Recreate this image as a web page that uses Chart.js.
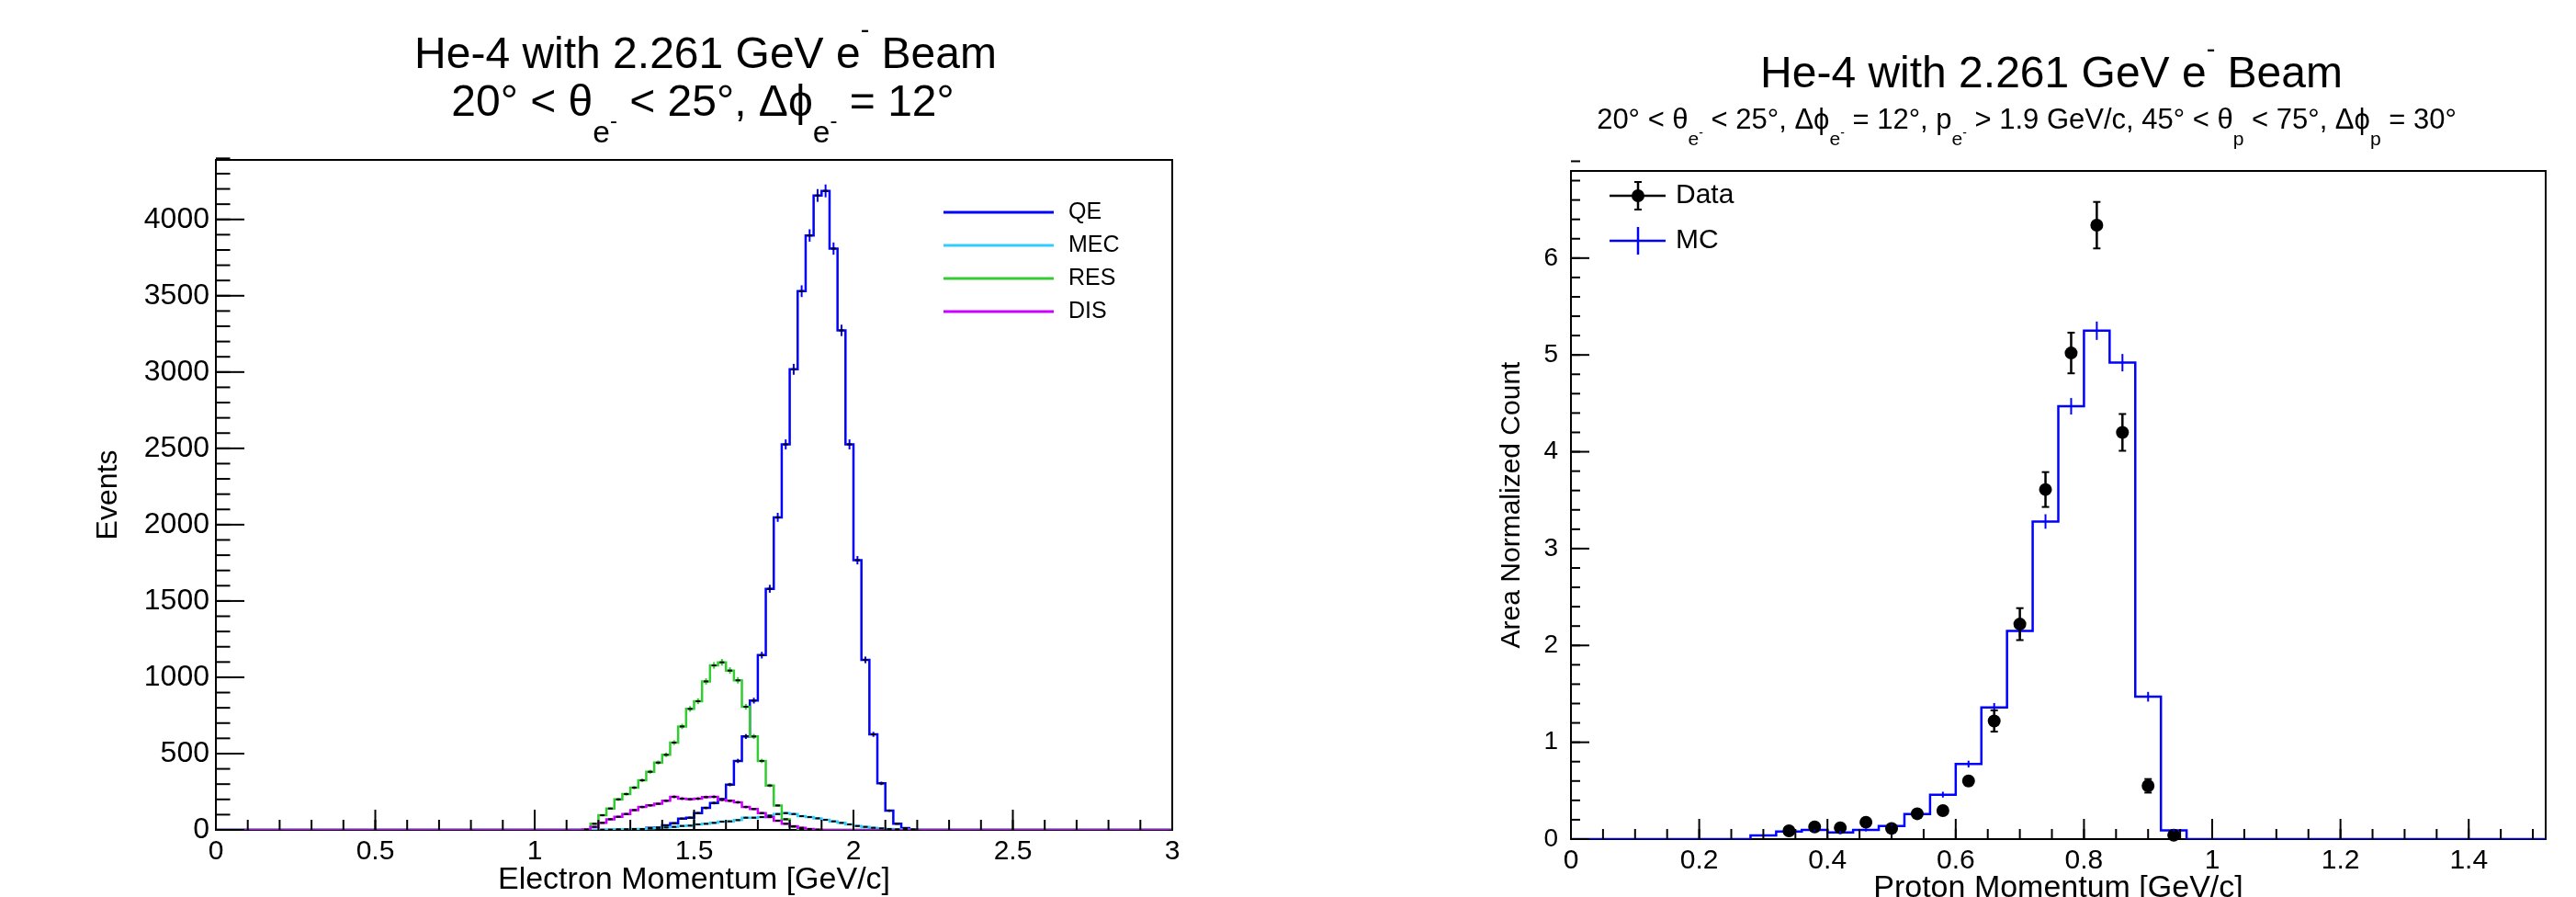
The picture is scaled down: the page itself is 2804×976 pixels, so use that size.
<!DOCTYPE html>
<html>
<head>
<meta charset="utf-8">
<script src="https://cdn.jsdelivr.net/npm/chart.js@4.4.1/dist/chart.umd.min.js"></script>
<style>
  html, body { margin: 0; padding: 0; background: #fff; }
  #wrap { position: relative; width: 2804px; height: 976px; overflow: hidden; }
  canvas { position: absolute; top: 0; }
  #left { left: 0; }
  #right { left: 1402px; }
</style>
</head>
<body>
<div id="wrap">
  <canvas id="left" width="1402" height="976"></canvas>
  <canvas id="right" width="1402" height="976"></canvas>
</div>
<script>
// ---------- left pad: electron momentum per interaction type ----------
const eBinWidth = 0.025;
const eNBins = 120;            // 0 .. 3 GeV/c
const eWindowStart = 1.15;     // first bin listed below, all other bins are empty
const qeCounts  = [0, 0, 0, 0, 1, 2, 3, 5, 13, 15, 30, 44, 74, 80, 110, 144, 176, 201, 297, 452, 612, 847,
                   1145, 1580, 2048, 2526, 3018, 3530, 3895, 4157, 4187, 3809, 3273, 2526, 1767, 1114, 626,
                   305, 126, 40, 12, 3];
const mecCounts = [0, 0, 1, 2, 4, 4, 6, 6, 10, 14, 16, 20, 26, 28, 36, 40, 46, 54, 56, 64, 80, 80, 84, 94,
                   104, 110, 104, 90, 84, 76, 66, 56, 46, 36, 26, 20, 14, 10, 6, 4, 2, 1];
const resCounts = [0, 40, 96, 140, 200, 235, 277, 325, 381, 441, 492, 572, 678, 793, 843, 973, 1078, 1098,
                   1044, 980, 807, 612, 452, 291, 160, 70, 22, 5, 0, 0, 0, 0, 0, 0, 0, 0, 0, 0, 0, 0, 0, 0];
const disCounts = [3, 20, 46, 70, 86, 104, 130, 150, 161, 171, 191, 217, 205, 201, 205, 215, 217, 197, 191,
                   181, 150, 137, 110, 84, 60, 40, 24, 14, 6, 2, 0, 0, 0, 0, 0, 0, 0, 0, 0, 0, 0, 0];
const eSeriesNames  = ['QE', 'MEC', 'RES', 'DIS'];
const eSeriesColors = ['#0000ff', '#33ccff', '#33cc33', '#cc00ff'];
const eXTicks = [0, 0.5, 1, 1.5, 2, 2.5, 3];
const eYTicks = [0, 500, 1000, 1500, 2000, 2500, 3000, 3500, 4000];
const eErrScale = 0.65;        // size of the little error crosses

// ---------- right pad: proton momentum, data vs MC ----------
const pBinWidth = 0.04;
const pNBins = 38;             // 0 .. 1.52 GeV/c
const pWindowStart = 0.28;
const mcValues = [0.038, 0.079, 0.095, 0.069, 0.095, 0.136, 0.259, 0.459, 0.775, 1.36, 2.15, 3.28, 4.47,
                  5.25, 4.92, 1.47, 0.09];
const mcErrors = [0.01, 0.015, 0.015, 0.015, 0.015, 0.015, 0.02, 0.03, 0.035, 0.045, 0.06, 0.075, 0.085,
                  0.095, 0.09, 0.05, 0.012];
const dataMomenta = [0.34, 0.38, 0.42, 0.46, 0.50, 0.54, 0.58, 0.62, 0.66, 0.70, 0.74, 0.78, 0.82, 0.86, 0.90, 0.94];
const dataValues  = [0.085, 0.126, 0.117, 0.174, 0.11, 0.262, 0.294, 0.60, 1.22, 2.22, 3.61, 5.02, 6.34, 4.20, 0.55, 0.04];
const dataErrors  = [0.02, 0.02, 0.02, 0.025, 0.02, 0.03, 0.03, 0.045, 0.11, 0.165, 0.18, 0.21, 0.24, 0.19, 0.07, 0.02];
const pXTicks = [0, 0.2, 0.4, 0.6, 0.8, 1, 1.2, 1.4];
const pYTicks = [0, 1, 2, 3, 4, 5, 6];

const FONT = "'Liberation Sans', Arial, Helvetica, sans-serif";
Chart.defaults.font.family = FONT;
Chart.defaults.color = '#000';

// histogram outline points at bin edges; each bin's value is held until the next edge
function histPoints(width, nBins, windowStart, counts) {
  const first = Math.round(windowStart / width);
  const pts = [];
  for (let i = 0; i < nBins; i++) {
    const j = i - first;
    const v = (j >= 0 && j < counts.length) ? counts[j] : 0;
    pts.push({ x: +(i * width).toFixed(4), y: v });
  }
  pts.push({ x: +(nBins * width).toFixed(4), y: pts[pts.length - 1].y });
  return pts;
}

// text with ROOT-like sub/superscripts: parts are [text, scale, dy(em)]
function richText(ctx, parts, cx, base, size) {
  let total = 0;
  const widths = parts.map(p => {
    ctx.font = `${size * p[1]}px ${FONT}`;
    const w = ctx.measureText(p[0]).width;
    total += w;
    return w;
  });
  let x = cx - total / 2;
  ctx.textAlign = 'left';
  ctx.textBaseline = 'alphabetic';
  ctx.fillStyle = '#000';
  parts.forEach((p, i) => {
    ctx.font = `${size * p[1]}px ${FONT}`;
    ctx.fillText(p[0], x, base + p[2] * size);
    x += widths[i];
  });
}

function line(ctx, x1, y1, x2, y2) {
  ctx.beginPath();
  ctx.moveTo(x1, y1);
  ctx.lineTo(x2, y2);
  ctx.stroke();
}

// frame, inward ROOT ticks, titles, legend, error bars
function rootDecor(cfg) {
  return {
    id: 'rootDecor',
    beforeDatasetsDraw(chart) {
      const { ctx, chartArea: a } = chart;
      ctx.save();
      ctx.strokeStyle = '#000';
      ctx.lineWidth = 2;
      ctx.strokeRect(a.left, a.top, a.right - a.left, a.bottom - a.top);
      ctx.restore();
    },
    afterDatasetsDraw(chart) {
      const { ctx, chartArea: a, scales: { x, y } } = chart;
      ctx.save();
      cfg.errors(chart, ctx);
      ctx.strokeStyle = '#000';
      ctx.lineWidth = 2;
      const nx = Math.round((x.max - x.min) / cfg.xMinor);
      for (let i = 0; i <= nx; i++) {
        const px = x.getPixelForValue(x.min + i * cfg.xMinor);
        line(ctx, px, a.bottom, px, a.bottom - cfg.xLen / 2);
      }
      cfg.xTicks.forEach(v => {
        const px = x.getPixelForValue(v);
        line(ctx, px, a.bottom, px, a.bottom - cfg.xLen);
      });
      const ny = Math.round((y.max - y.min) / cfg.yMinor);
      for (let i = 0; i <= ny; i++) {
        const py = y.getPixelForValue(y.min + i * cfg.yMinor);
        line(ctx, a.left, py, a.left + cfg.yLen / 2, py);
      }
      cfg.yTicks.forEach(v => {
        const py = y.getPixelForValue(v);
        line(ctx, a.left, py, a.left + cfg.yLen, py);
      });
      cfg.titles.forEach(t => richText(ctx, t.parts, t.cx, t.base, t.size));
      cfg.legend(ctx);
      ctx.restore();
    }
  };
}

const N = t => [t, 1, 0];
const SUP = t => [t, 0.6, -0.67];

// ---------------- left chart ----------------
const eSeriesCounts = [qeCounts, mecCounts, resCounts, disCounts];

new Chart(document.getElementById('left'), {
  type: 'line',
  data: {
    datasets: eSeriesCounts.map((c, i) => ({
      label: eSeriesNames[i],
      data: histPoints(eBinWidth, eNBins, eWindowStart, c),
      borderColor: eSeriesColors[i],
      borderWidth: 2.5,
      stepped: 'before',
      pointRadius: 0,
      fill: false,
      order: 4 - i
    }))
  },
  options: {
    responsive: false,
    animation: false,
    devicePixelRatio: 1,
    events: [],
    layout: { padding: { left: 0, right: 126, top: 174, bottom: 0 } },
    plugins: { legend: { display: false }, tooltip: { enabled: false } },
    scales: {
      x: {
        type: 'linear', min: 0, max: 3,
        afterBuildTicks: s => { s.ticks = eXTicks.map(v => ({ value: v })); },
        afterFit: s => { s.height = 73; },
        grid: { display: false, drawTicks: false },
        border: { display: false },
        ticks: { callback: v => String(v), font: { size: 30, lineHeight: 1 }, padding: 9, maxRotation: 0, autoSkip: false },
        title: { display: true, text: 'Electron Momentum [GeV/c]', font: { size: 34, lineHeight: 1 }, padding: { top: 0, bottom: 1 } }
      },
      y: {
        type: 'linear', min: 0, max: 4390,
        afterBuildTicks: s => { s.ticks = eYTicks.map(v => ({ value: v })); },
        afterFit: s => { s.width = 235; },
        grid: { display: false, drawTicks: false },
        border: { display: false },
        ticks: { callback: v => String(v), font: { size: 32 }, padding: 7, autoSkip: false },
        title: { display: true, text: 'Events', font: { size: 32, lineHeight: 1 }, padding: { top: 102, bottom: 0 } }
      }
    }
  },
  plugins: [rootDecor({
    xMinor: 0.1, yMinor: 100, xLen: 22, yLen: 31,
    xTicks: eXTicks, yTicks: eYTicks,
    titles: [
      { parts: [N('He-4 with 2.261 GeV e'), SUP('-'), N(' Beam')], cx: 768, base: 74, size: 48 },
      { parts: [N('20° < θ'), ['e', 0.7, 0.6], ['-', 0.5, 0.27], N(' < 25°, Δϕ'), ['e', 0.7, 0.6], ['-', 0.5, 0.27], N(' = 12°')],
        cx: 765, base: 126, size: 48 }
    ],
    errors(chart, ctx) {
      const { x, y } = chart.scales;
      eSeriesCounts.forEach((counts, s) => {
        counts.forEach((v, j) => {
          if (v <= 0) return;
          const cx = x.getPixelForValue(eWindowStart + (j + 0.5) * eBinWidth);
          const cy = y.getPixelForValue(v);
          const e = eErrScale * Math.sqrt(v);
          ctx.strokeStyle = eSeriesColors[s];
          ctx.lineWidth = 2;
          line(ctx, cx, y.getPixelForValue(v - e), cx, y.getPixelForValue(v + e));
          ctx.strokeStyle = '#000';
          line(ctx, cx - 2.5, cy, cx + 2.5, cy);
        });
      });
    },
    legend(ctx) {
      ctx.font = `25px ${FONT}`;
      ctx.textAlign = 'left';
      ctx.textBaseline = 'middle';
      eSeriesNames.forEach((name, i) => {
        const ly = 231 + i * 36;
        ctx.strokeStyle = eSeriesColors[i];
        ctx.lineWidth = 3;
        line(ctx, 1027, ly, 1147, ly);
        ctx.fillStyle = '#000';
        ctx.fillText(name, 1163, ly);
      });
    }
  })]
});

// ---------------- right chart ----------------
const mcPoints = histPoints(pBinWidth, pNBins, pWindowStart, mcValues);

new Chart(document.getElementById('right'), {
  type: 'line',
  data: {
    datasets: [
      {
        label: 'Data',
        data: dataMomenta.map((m, i) => ({ x: m, y: dataValues[i] })),
        showLine: false,
        pointRadius: 7,
        pointBackgroundColor: '#000',
        pointBorderColor: '#000',
        pointBorderWidth: 0,
        clip: false,
        order: 0
      },
      {
        label: 'MC',
        data: mcPoints,
        borderColor: '#0000ff',
        borderWidth: 2.5,
        stepped: 'before',
        pointRadius: 0,
        fill: false,
        order: 1
      }
    ]
  },
  options: {
    responsive: false,
    animation: false,
    devicePixelRatio: 1,
    events: [],
    layout: { padding: { left: 0, right: 33, top: 186, bottom: 0 } },
    plugins: { legend: { display: false }, tooltip: { enabled: false } },
    scales: {
      x: {
        type: 'linear', min: 0, max: 1.52,
        afterBuildTicks: s => { s.ticks = pXTicks.map(v => ({ value: v })); },
        afterFit: s => { s.height = 63; },
        grid: { display: false, drawTicks: false },
        border: { display: false },
        ticks: { callback: v => String(v), font: { size: 30, lineHeight: 1 }, padding: 9, maxRotation: 0, autoSkip: false },
        title: { display: true, text: 'Proton Momentum [GeV/c]', font: { size: 34, lineHeight: 1 }, padding: { top: 0, bottom: -8 } }
      },
      y: {
        type: 'linear', min: 0, max: 6.9,
        afterBuildTicks: s => { s.ticks = pYTicks.map(v => ({ value: v })); },
        afterFit: s => { s.width = 308; },
        grid: { display: false, drawTicks: false },
        border: { display: false },
        ticks: { callback: v => String(v), font: { size: 28 }, padding: 14, autoSkip: false },
        title: { display: true, text: 'Area Normalized Count', font: { size: 30, lineHeight: 1 }, padding: { top: 229, bottom: 0 } }
      }
    }
  },
  plugins: [rootDecor({
    xMinor: 0.05, yMinor: 0.2, xLen: 22, yLen: 20,
    xTicks: pXTicks, yTicks: pYTicks,
    titles: [
      { parts: [N('He-4 with 2.261 GeV e'), SUP('-'), N(' Beam')], cx: 831, base: 95, size: 48 },
      { parts: [N('20° < θ'), ['e', 0.68, 0.57], ['-', 0.45, 0.3], N(' < 25°, Δϕ'), ['e', 0.68, 0.57], ['-', 0.45, 0.3],
                N(' = 12°, p'), ['e', 0.68, 0.57], ['-', 0.45, 0.3], N(' > 1.9 GeV/c, 45° < θ'), ['p', 0.68, 0.57],
                N(' < 75°, Δϕ'), ['p', 0.68, 0.57], N(' = 30°')],
        cx: 804, base: 140, size: 31 }
    ],
    errors(chart, ctx) {
      const { x, y } = chart.scales;
      ctx.strokeStyle = '#0000ff';
      ctx.lineWidth = 2;
      mcValues.forEach((v, j) => {
        const cx = x.getPixelForValue(pWindowStart + (j + 0.5) * pBinWidth);
        line(ctx, cx, y.getPixelForValue(v - mcErrors[j]), cx, y.getPixelForValue(v + mcErrors[j]));
      });
      ctx.strokeStyle = '#000';
      dataMomenta.forEach((m, i) => {
        const cx = x.getPixelForValue(m);
        const lo = y.getPixelForValue(dataValues[i] - dataErrors[i]);
        const hi = y.getPixelForValue(dataValues[i] + dataErrors[i]);
        ctx.lineWidth = 2.5;
        line(ctx, cx, lo, cx, hi);
        ctx.lineWidth = 2;
        line(ctx, cx - 4, lo, cx + 4, lo);
        line(ctx, cx - 4, hi, cx + 4, hi);
      });
    },
    legend(ctx) {
      // Data entry: line + marker + error bar
      ctx.strokeStyle = '#000';
      ctx.lineWidth = 2.5;
      line(ctx, 350, 213, 411, 213);
      line(ctx, 381, 198, 381, 228);
      ctx.lineWidth = 2;
      line(ctx, 377, 198, 385, 198);
      line(ctx, 377, 228, 385, 228);
      ctx.fillStyle = '#000';
      ctx.beginPath();
      ctx.arc(381, 213, 7, 0, Math.PI * 2);
      ctx.fill();
      // MC entry: blue cross
      ctx.strokeStyle = '#0000ff';
      ctx.lineWidth = 2.5;
      line(ctx, 350, 262, 411, 262);
      line(ctx, 381, 247, 381, 277);
      ctx.font = `30px ${FONT}`;
      ctx.textAlign = 'left';
      ctx.textBaseline = 'middle';
      ctx.fillStyle = '#000';
      ctx.fillText('Data', 422, 213);
      ctx.fillText('MC', 422, 262);
    }
  })]
});
</script>
</body>
</html>
